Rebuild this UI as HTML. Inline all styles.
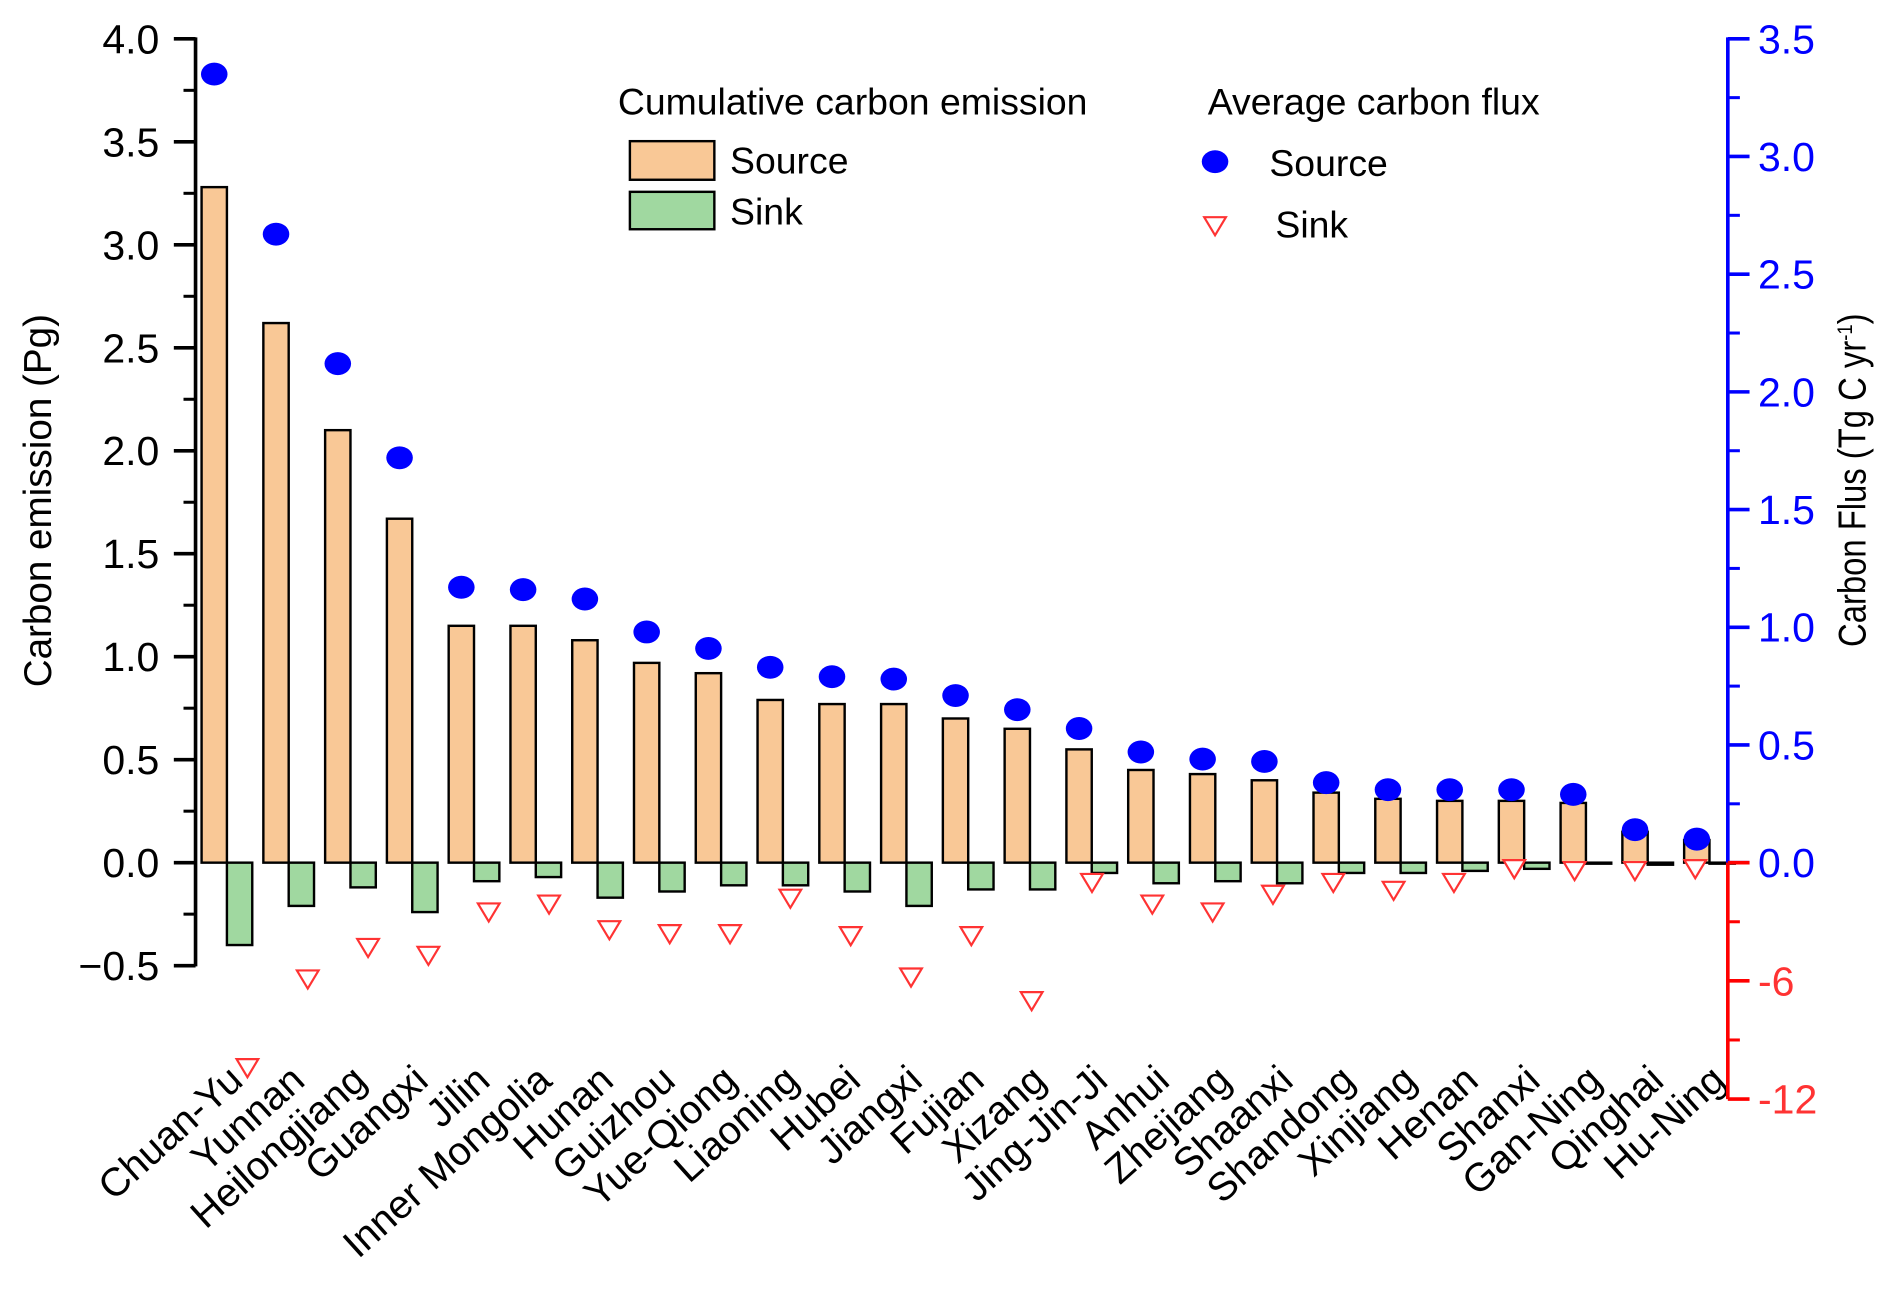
<!DOCTYPE html>
<html><head><meta charset="utf-8"><style>
html,body{margin:0;padding:0;background:#fff;}
svg{display:block;font-family:"Liberation Sans",Arial,sans-serif;}
</style></head><body>
<svg id="chart" width="1892" height="1297" viewBox="0 0 1568 1075" xmlns="http://www.w3.org/2000/svg"></svg>
<script>
const categories = ["Chuan-Yu","Yunnan","Heilongjiang","Guangxi","Jilin","Inner Mongolia","Hunan","Guizhou","Yue-Qiong","Liaoning","Hubei","Jiangxi","Fujian","Xizang","Jing-Jin-Ji","Anhui","Zhejiang","Shaanxi","Shandong","Xinjiang","Henan","Shanxi","Gan-Ning","Qinghai","Hu-Ning"];
const sourceEmission = [3.28,2.62,2.10,1.67,1.15,1.15,1.08,0.97,0.92,0.79,0.77,0.77,0.70,0.65,0.55,0.45,0.43,0.40,0.34,0.31,0.30,0.30,0.29,0.15,0.11];
const sinkEmission = [-0.40,-0.21,-0.12,-0.24,-0.09,-0.07,-0.17,-0.14,-0.11,-0.11,-0.14,-0.21,-0.13,-0.13,-0.05,-0.10,-0.09,-0.10,-0.05,-0.05,-0.04,-0.03,-0.005,-0.01,-0.005];
const sourceFlux = [3.35,2.67,2.12,1.72,1.17,1.16,1.12,0.98,0.91,0.83,0.79,0.78,0.71,0.65,0.57,0.47,0.44,0.43,0.34,0.31,0.31,0.31,0.29,0.14,0.10];
const sinkFlux = [-10.4,-5.9,-4.3,-4.7,-2.5,-2.1,-3.4,-3.6,-3.6,-1.8,-3.7,-5.8,-3.7,-7.0,-1.0,-2.1,-2.5,-1.6,-1.0,-1.4,-1.0,-0.3,-0.4,-0.4,-0.3];
const leftTicks = ["-0.5","0.0","0.5","1.0","1.5","2.0","2.5","3.0","3.5","4.0"];
const rightPosTicks = ["0.0","0.5","1.0","1.5","2.0","2.5","3.0","3.5"];
const rightNegTicks = ["-6","-12"];

const svg = document.getElementById('chart');
const NS = 'http://www.w3.org/2000/svg';
function mk(tag, attrs, parent){const e=document.createElementNS(NS,tag);for(const k in attrs)e.setAttribute(k,attrs[k]);(parent||svg).appendChild(e);return e;}
const X0=162, X1=1432, Y0=715;
const yL = v => Y0 - v*170.7;
const yRp = v => Y0 - v*195.1;
const yRn = v => Y0 - v*16.33;
const gx = i => 188 + i*51.2;
const tx = i => 205 + i*50;
const BW = 21;

categories.forEach((c,i)=>{
  const s = sourceEmission[i];
  let r = mk('rect',{x:gx(i)-BW,y:yL(s),width:BW,height:Y0-yL(s),fill:'#F9C896',stroke:'#000','stroke-width':2});
  
  
  const k = sinkEmission[i];
  r = mk('rect',{x:gx(i),y:Y0,width:BW,height:Math.max(yL(k)-Y0,0.5),fill:'#A0D8A0',stroke:'#000','stroke-width':2});
  
  
});
categories.forEach((c,i)=>{
  let e = mk('ellipse',{cx:gx(i)-BW/2,cy:yRp(sourceFlux[i]),rx:11,ry:9.5,fill:'#0000FF'});
  
  
  const x=tx(i), y=yRn(sinkFlux[i]);
  e = mk('path',{d:`M${x-9},${y-7} L${x+9},${y-7} L${x},${y+8} Z`,fill:'#fff',stroke:'#FF3333','stroke-width':1.8});
  
  
  const ax=gx(i)+15, ay=898;
  const t = mk('text',{x:ax,y:ay,'font-size':33,'text-anchor':'end',transform:`rotate(-42 ${ax} ${ay})`});
  t.textContent=c;
  
  
});
let a = mk('line',{x1:X0,y1:31,x2:X0,y2:801,stroke:'#000','stroke-width':3});


leftTicks.forEach((t,i)=>{
  const v=parseFloat(t), y=yL(v);
  mk('line',{x1:X0-18,y1:y,x2:X0,y2:y,stroke:'#000','stroke-width':3});
  if(v<4){mk('line',{x1:X0-10,y1:yL(v+0.25),x2:X0,y2:yL(v+0.25),stroke:'#000','stroke-width':2.5});}
  const e=mk('text',{x:132,y:y+12,'font-size':34,'text-anchor':'end'});
  e.textContent=t.replace('-','\u2212');
  
  
});
a = mk('line',{x1:X1,y1:31,x2:X1,y2:Y0,stroke:'#0000FF','stroke-width':3});


a = mk('line',{x1:X1,y1:Y0,x2:X1,y2:911,stroke:'#FF0000','stroke-width':3});


rightPosTicks.forEach(t=>{
  const v=parseFloat(t), y=yRp(v);
  mk('line',{x1:X1,y1:y,x2:X1+18,y2:y,stroke:'#0000FF','stroke-width':3});
  if(v<3.5) mk('line',{x1:X1,y1:yRp(v+0.25),x2:X1+10,y2:yRp(v+0.25),stroke:'#0000FF','stroke-width':2.5});
  const e=mk('text',{x:1457,y:y+12,'font-size':34,fill:'#0000FF'});
  e.textContent=t;
  
  
});
mk('line',{x1:X1,y1:Y0,x2:X1+18,y2:Y0,stroke:'#FF0000','stroke-width':3});
rightNegTicks.forEach(t=>{
  const v=parseFloat(t), y=yRn(v);
  mk('line',{x1:X1,y1:y,x2:X1+18,y2:y,stroke:'#FF0000','stroke-width':3});
  mk('line',{x1:X1,y1:yRn(v+3),x2:X1+10,y2:yRn(v+3),stroke:'#FF0000','stroke-width':2.5});
  const e=mk('text',{x:1457,y:y+12,'font-size':34,fill:'#FF3333'});
  e.textContent=t;
  
  
});
let t = mk('text',{x:42,y:415,'font-size':32,'text-anchor':'middle',transform:'rotate(-90 42 415)'});
t.textContent='Carbon emission (Pg)';


t = mk('text',{x:0,y:0,'font-size':32,'text-anchor':'middle',transform:'translate(1546 398) rotate(-90) scale(0.85 1)'});
t.innerHTML='Carbon Flus (Tg C yr<tspan dy="-11" font-size="18">-1</tspan><tspan dy="11">)</tspan>';


const lg = mk('g',{});


function txt(x,y,s,name){const e=mk('text',{x:x,y:y,'font-size':31},lg);e.textContent=s;}
txt(512,95,'Cumulative carbon emission','legend-title-emission');
mk('rect',{x:522,y:117,width:70,height:32,fill:'#F9C896',stroke:'#000','stroke-width':2},lg);
txt(605,144,'Source','legend-source-bar');
mk('rect',{x:522,y:159,width:70,height:31,fill:'#A0D8A0',stroke:'#000','stroke-width':2},lg);
txt(605,186,'Sink','legend-sink-bar');
txt(1001,95,'Average carbon flux','legend-title-flux');
mk('ellipse',{cx:1007,cy:134,rx:11,ry:9.5,fill:'#0000FF'},lg);
txt(1052,146,'Source','legend-source-point');
mk('path',{d:'M998,180 L1016,180 L1007,195 Z',fill:'#fff',stroke:'#FF3333','stroke-width':1.8},lg);
txt(1057,197,'Sink','legend-sink-point');
</script>
</body></html>
